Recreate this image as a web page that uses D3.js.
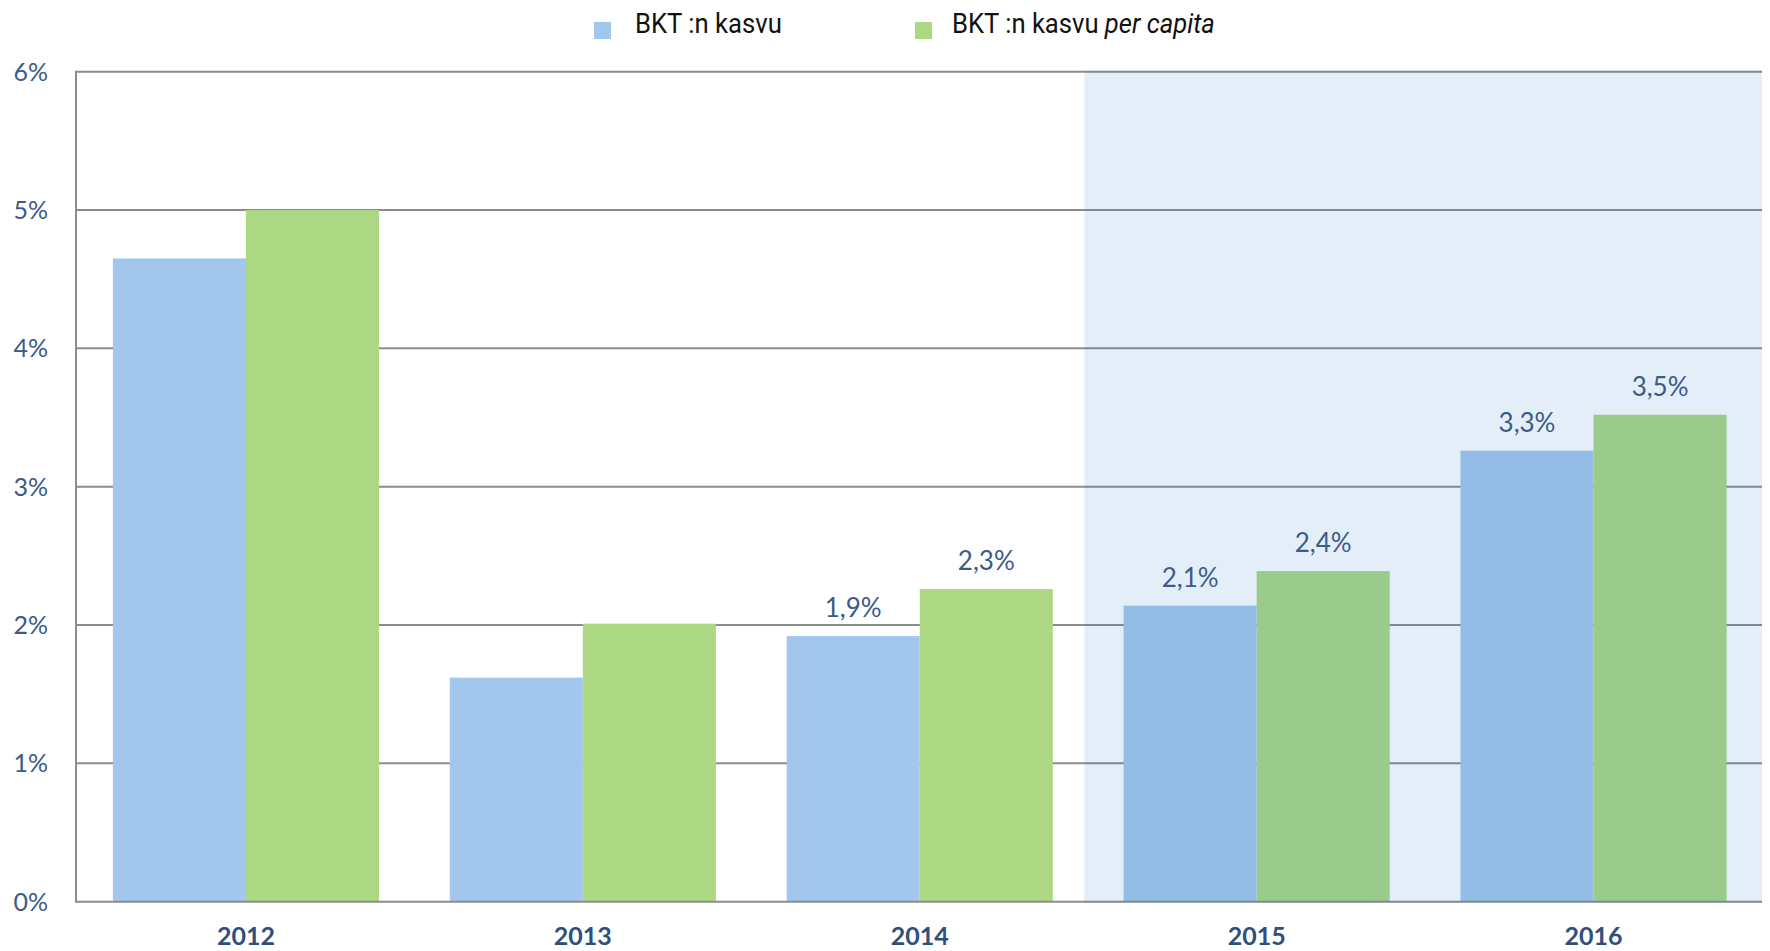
<!DOCTYPE html>
<html>
<head>
<meta charset="utf-8">
<script src="https://cdn.jsdelivr.net/npm/d3@7"></script>
<style>
  html, body { margin: 0; padding: 0; background: #fff; }
  svg { display: block; }
</style>
</head>
<body>
<svg id="chart" width="1770" height="951"></svg>
<script>
// ---- data ----
const years = ["2012", "2013", "2014", "2015", "2016"];
const gdpGrowth = [4.65, 1.62, 1.92, 2.14, 3.26];
const gdpGrowthPerCapita = [5.0, 2.01, 2.26, 2.39, 3.52];
const labelledYears = ["2014", "2015", "2016"];
const forecastYears = ["2015", "2016"];
const yTicks = [0, 1, 2, 3, 4, 5, 6];
const seriesNames = ["BKT :n kasvu", "BKT :n kasvu"];
const seriesItalic = ["", "per capita"];

(function () {
// ---- layout ----
const plotLeft = 76, plotRight = 1762, plotTop = 71.7, plotBottom = 901.7;
const svg = d3.select("#chart");

const x = d3.scaleBand().domain(years).range([plotLeft + 1.5, plotRight]).paddingInner(0.21).paddingOuter(0.105);
const xs = d3.scaleBand().domain([0, 1]).range([0, x.bandwidth()]);
const y = d3.scaleLinear().domain([0, 6]).range([plotBottom, plotTop]);

const colors = ["#A3C7EC", "#ACD884"];
const gridColor = "#8C8C8C";
const tickColor = "#3B5B88";
const yearColor = "#2F4F7C";

const dec = d3.formatLocale({decimal: ",", thousands: " ", grouping: [3], currency: ["", ""]});
const fmt = v => dec.format(".1f")(v) + "%";

// gridlines
svg.append("g").selectAll("line").data(yTicks.filter(t => t > 0)).join("line")
  .attr("x1", plotLeft).attr("x2", plotRight)
  .attr("y1", d => y(d)).attr("y2", d => y(d))
  .attr("stroke", gridColor).attr("stroke-width", 2);

// bars
const series = [gdpGrowth, gdpGrowthPerCapita];
series.forEach((vals, si) => {
  svg.append("g").selectAll("rect").data(years.map((yr, i) => ({yr, v: vals[i]}))).join("rect")
    .attr("x", d => x(d.yr) + xs(si))
    .attr("width", xs.bandwidth())
    .attr("y", d => y(d.v))
    .attr("height", d => y(0) - y(d.v))
    .attr("fill", colors[si]);
});

// axes lines
svg.append("line").attr("x1", plotLeft).attr("x2", plotRight).attr("y1", y(0)).attr("y2", y(0))
  .attr("stroke", gridColor).attr("stroke-width", 2);
svg.append("line").attr("x1", plotLeft).attr("x2", plotLeft).attr("y1", y(6) - 1).attr("y2", y(0) + 1)
  .attr("stroke", gridColor).attr("stroke-width", 2);

// forecast shading overlay
const step = x.step();
const shadeStart = x(forecastYears[0]) - step * x.paddingOuter() - 4;
svg.append("rect")
  .attr("x", shadeStart).attr("y", y(6) - 1)
  .attr("width", plotRight - shadeStart).attr("height", y(0) - y(6) + 2)
  .attr("fill", "rgb(30,114,197)").attr("fill-opacity", 0.12);

// y tick labels
svg.append("g").selectAll("text").data(yTicks).join("text")
  .attr("x", 48).attr("y", d => y(d)).attr("dy", "0.36em")
  .attr("text-anchor", "end")
  .attr("font-family", "Lato, sans-serif").attr("font-size", 25)
  .attr("fill", tickColor)
  .text(d => d + "%");

// x labels
svg.append("g").selectAll("text").data(years).join("text")
  .attr("x", d => x(d) + x.bandwidth() / 2).attr("y", 945)
  .attr("text-anchor", "middle")
  .attr("font-family", "Lato, sans-serif").attr("font-weight", "bold").attr("font-size", 25)
  .attr("fill", yearColor)
  .text(d => d);

// data labels
series.forEach((vals, si) => {
  svg.append("g").selectAll("text")
    .data(years.map((yr, i) => ({yr, v: vals[i]})).filter(d => labelledYears.includes(d.yr)))
    .join("text")
    .attr("x", d => x(d.yr) + xs(si) + xs.bandwidth() / 2)
    .attr("y", d => y(d.v) - 19)
    .attr("text-anchor", "middle")
    .attr("font-family", "Lato, sans-serif").attr("font-size", 26)
    .attr("fill", tickColor)
    .text(d => fmt(d.v));
});

// legend
const legendItems = [
  {sq: 594, tx: 635, w: 147},
  {sq: 915, tx: 952, w: 263}
];
legendItems.forEach((it, i) => {
  svg.append("rect").attr("x", it.sq).attr("y", 22).attr("width", 17).attr("height", 17)
    .attr("fill", colors[i]);
  const t = svg.append("text")
    .attr("font-family", "Roboto, sans-serif").attr("font-size", 28).attr("fill", "#111");
  t.append("tspan").text(seriesNames[i]);
  if (seriesItalic[i]) {
    t.append("tspan").attr("font-style", "italic").text(" " + seriesItalic[i]);
  }
  const w = t.node().getComputedTextLength();
  t.attr("transform", `translate(${it.tx},33) scale(${it.w / w},1)`);
});
})();
</script>
</body>
</html>
